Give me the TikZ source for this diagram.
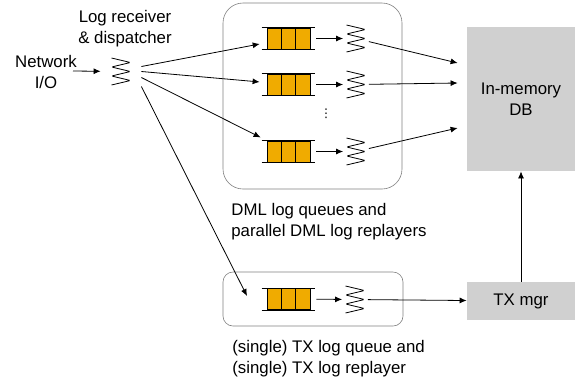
\documentclass[tikz,border=0pt]{standalone}
\usepackage{fontspec}
\setmainfont{Liberation Sans}
\newfontfamily\dotsfont{DejaVu Sans}
\usetikzlibrary{arrows.meta,calc}

\definecolor{qorange}{RGB}{240,171,0}
\definecolor{boxgray}{RGB}{128,128,128}
\definecolor{dbgray}{RGB}{208,208,208}

\tikzset{
  queue/.style={draw, fill=qorange, minimum width=43pt, minimum height=21pt, inner sep=0pt},
  spring/.style={minimum width=25pt, minimum height=28pt, inner sep=0pt,
    path picture={\draw[rounded corners=1.2pt] ([shift={(-9.5pt,13.5pt)}]path picture bounding box.center)
      -- ++(19pt,-4.5pt) -- ++(-19pt,-4.5pt) -- ++(19pt,-4.5pt)
      -- ++(-19pt,-4.5pt) -- ++(19pt,-4.5pt) -- ++(-19pt,-4.5pt);}},
  region/.style={draw=boxgray, line width=0.6pt},
  store/.style={fill=dbgray, minimum width=108pt, align=center},
  caption/.style={align=left, anchor=west, inner sep=0pt},
}

\begin{document}
\begin{tikzpicture}[x=1pt, y=-1pt, >={Latex[length=7pt,width=6pt]}, line width=0.8pt,
    font=\fontsize{16.8}{21}\selectfont]
\useasboundingbox (0,0) rectangle (575,384);

\node (dmlbox) [region, rounded corners=20pt, minimum width=179pt, minimum height=186pt] at (312.5,96) {};
\node (txbox) [region, rounded corners=10pt, minimum width=180pt, minimum height=54pt] at (313,299) {};

\node (net) [align=center] at (46,72) {Network\\I/O};
\node (logrx) [align=center] at (125,28.5) {Log receiver\\\& dispatcher};
\coordinate (netin) at (73,71);
\node (disp) [spring, minimum width=40pt] at (121,71.5) {};

\node (q1) [queue] at (288.5,38.5) {};
\node (q2) [queue] at (288.5,84.5) {};
\node (q3) [queue] at (288.5,151.5) {};
\node (tq) [queue] at (288.5,299) {};
\node (s1) [spring] at (356,38.5) {};
\node (s2) [spring] at (356,84.5) {};
\node (s3) [spring] at (356,151.5) {};
\node (ts) [spring] at (355,299.5) {};
\node (dots) [font=\dotsfont\fontsize{12}{12}\selectfont] at (326,114) {⋮};

\node (db) [store, minimum height=144pt] at (521,99) {In-memory\\DB};
\node (txm) [store, minimum height=38pt] at (521,301) {TX mgr};
\coordinate (txin) at (247,296);

\node (dmlcap) [caption] at (231,221.5) {DML log queues and\\parallel DML log replayers};
\node (txcap) [caption] at (232,359) {(single) TX log queue and\\(single) TX log replayer};

\foreach \q in {q1,q2,q3,tq}{
  \draw ($(\q.north west)!1/3!(\q.north east)$) -- ($(\q.south west)!1/3!(\q.south east)$)
        ($(\q.north west)!2/3!(\q.north east)$) -- ($(\q.south west)!2/3!(\q.south east)$);
  \draw ([xshift=-5pt]\q.north west) -- ([xshift=5pt]\q.north east)
        ([xshift=-5pt]\q.south west) -- ([xshift=5pt]\q.south east);
}

\path[->]
  (netin) edge (disp)
  ($(disp.east)+(0,15)$) edge (txin);
\path[->, shorten >=7pt]
  ($(disp.east)+(0,-5)$) edge (q1)
  ($(disp.east)+(0,0)$) edge (q2)
  ($(disp.east)+(0,6)$) edge (q3);
\path[->, shorten <=6pt]
  (q1) edge (s1)
  (q2) edge (s2)
  (q3) edge (s3)
  (tq) edge (ts);
\path[->]
  (s1) edge ([xshift=-9pt, yshift=36pt]db.west)
  (s2) edge ([xshift=-9pt, yshift=16pt]db.west)
  (s3) edge ([xshift=-9pt, yshift=-29pt]db.west)
  (ts) edge (txm)
  (txm) edge (db);
\end{tikzpicture}
\end{document}
